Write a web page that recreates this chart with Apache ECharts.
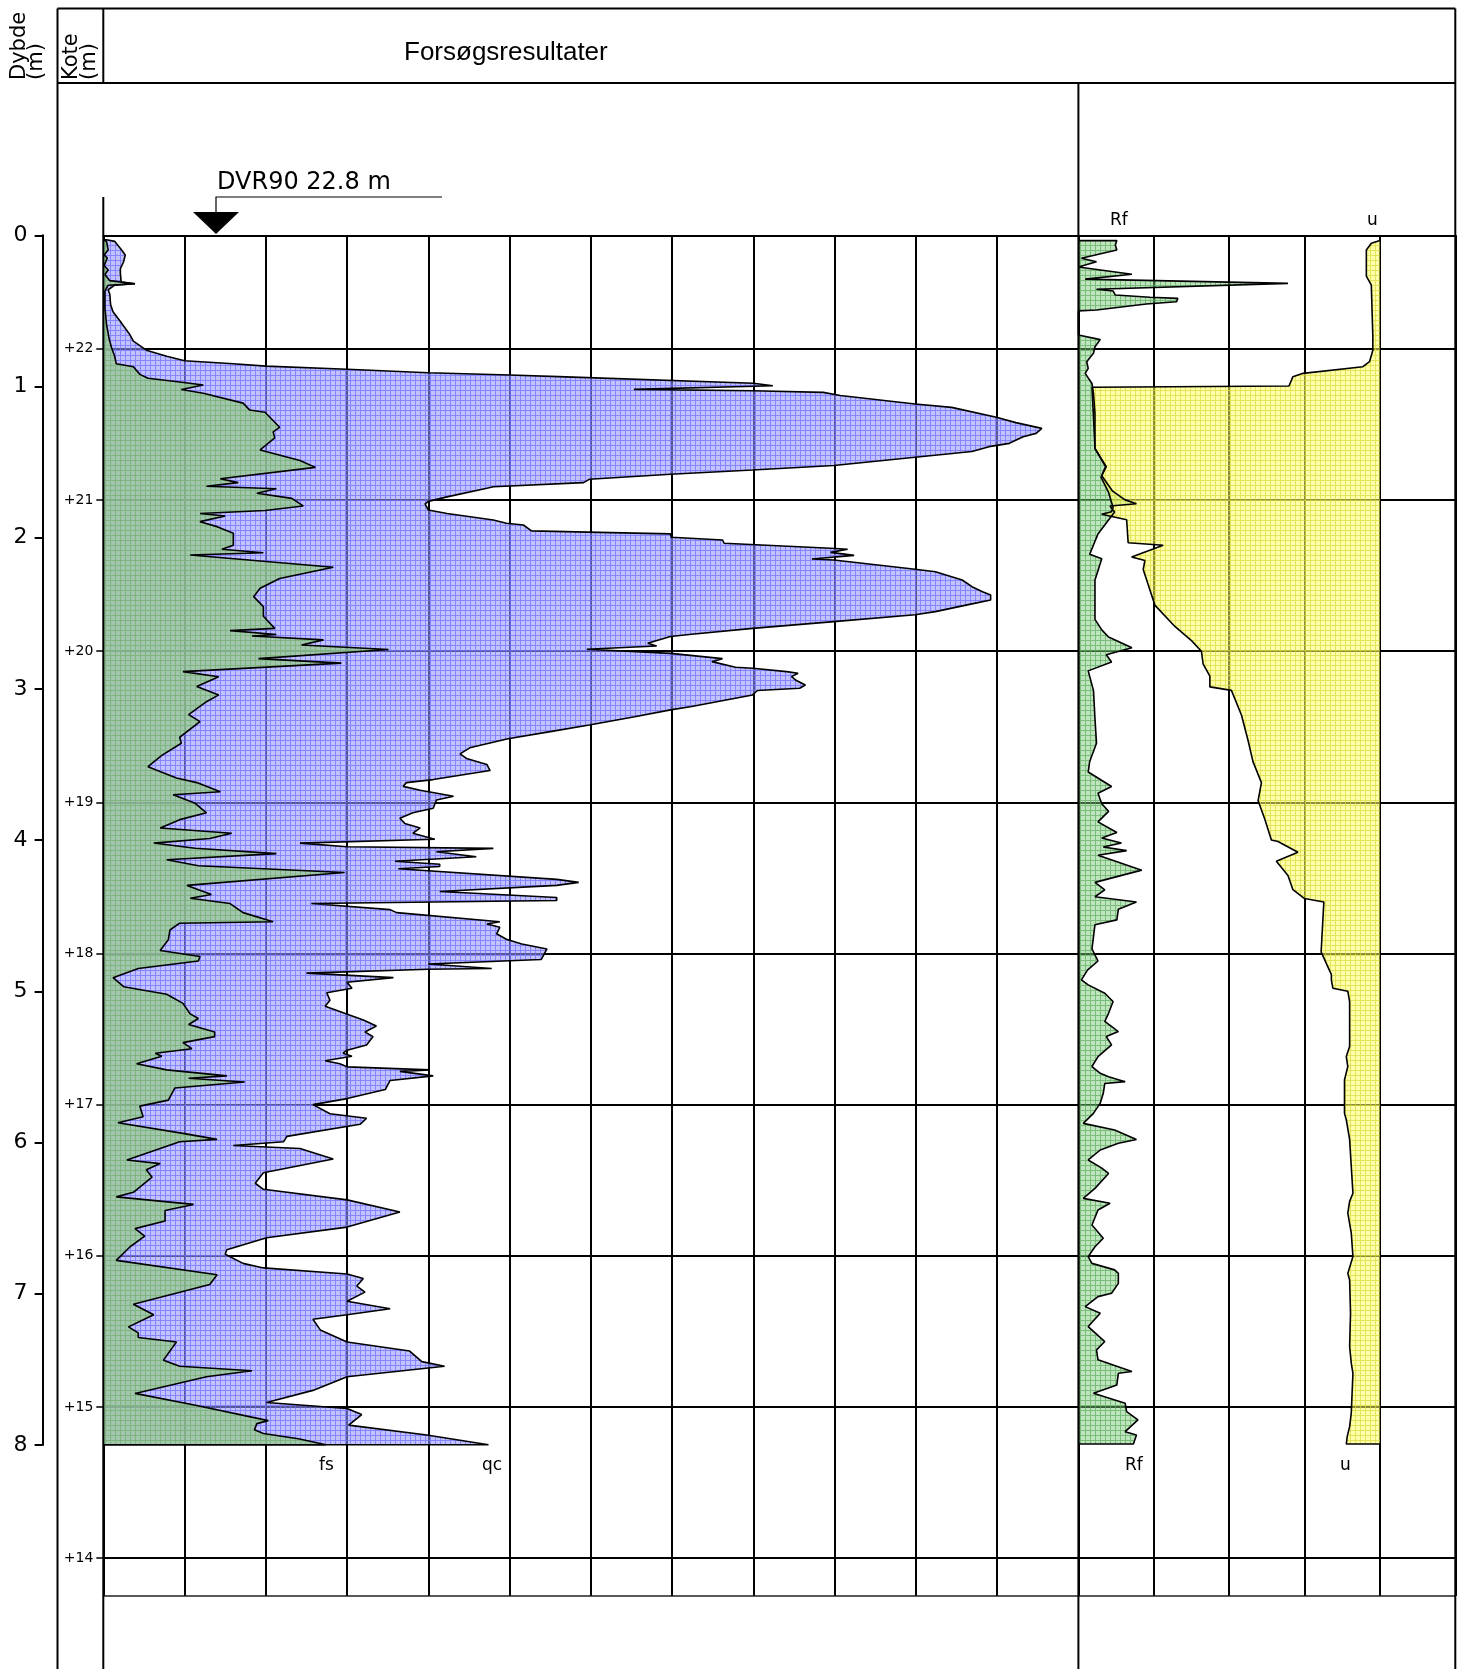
<!DOCTYPE html>
<html><head><meta charset="utf-8">
<script src="https://cdn.jsdelivr.net/npm/echarts@6/dist/echarts.min.js"></script>
<style>html,body{margin:0;padding:0;background:#fff}#c{width:1467px;height:1669px}</style>
</head><body><div id="c"></div>
<script>
// ---------- DATA ----------
const groundKote = 22.75;            // DVR90 22.8 m
const koteTicks = [22,21,20,19,18,17,16,15,14];
const depthTicks = [0,1,2,3,4,5,6,7,8];
// [depth m, qc MPa]
const qc = [[0.03,0.04],[0.04,0.14],[0.10,0.23],[0.13,0.27],[0.175,0.25],[0.22,0.21],[0.25,0.21],[0.31,0.22],[0.32,0.39],[0.33,0.14],[0.36,0.06],[0.39,0.08],[0.46,0.09],[0.505,0.12],[0.57,0.21],[0.66,0.33],[0.70,0.37],[0.76,0.53],[0.80,0.78],[0.83,1.0],[0.85,1.6],[0.865,2.0],[0.886,3.0],[0.909,4.0],[0.924,5.0],[0.935,5.6],[0.979,8.0],[0.995,8.24],[1.019,6.53],[1.028,8.0],[1.039,8.86],[1.06,9.07],[1.116,9.99],[1.138,10.44],[1.204,10.99],[1.239,11.23],[1.277,11.55],[1.31,11.48],[1.332,11.32],[1.376,11.15],[1.398,10.9],[1.43,10.69],[1.468,9.99],[1.523,8.99],[1.552,7.99],[1.58,6.98],[1.614,5.98],[1.636,5.91],[1.663,4.80],[1.673,4.72],[1.73,4.23],[1.76,4.0],[1.777,3.96],[1.817,4.0],[1.84,4.23],[1.883,4.80],[1.905,4.96],[1.916,5.17],[1.955,5.27],[1.965,6.1],[1.975,6.98],[1.997,6.99],[2.015,7.62],[2.037,7.64],[2.07,8.95],[2.077,9.16],[2.097,8.95],[2.117,9.24],[2.141,8.72],[2.148,8.99],[2.209,9.99],[2.225,10.24],[2.28,10.57],[2.324,10.69],[2.357,10.82],[2.379,10.92],[2.412,10.92],[2.438,10.69],[2.489,10.24],[2.51,9.99],[2.555,8.99],[2.6,7.99],[2.639,7.24],[2.654,6.98],[2.698,6.70],[2.716,6.81],[2.738,5.95],[2.765,6.98],[2.80,7.62],[2.82,7.49],[2.857,7.78],[2.864,7.99],[2.886,8.41],[2.897,8.55],[2.919,8.47],[2.945,8.53],[2.974,8.64],[2.996,8.57],[3.011,8.05],[3.04,7.99],[3.117,7.24],[3.139,6.98],[3.184,6.54],[3.239,5.98],[3.283,5.5],[3.33,4.98],[3.39,4.51],[3.43,4.39],[3.46,4.47],[3.50,4.72],[3.54,4.76],[3.60,4.06],[3.62,3.73],[3.645,3.69],[3.67,3.90],[3.71,4.31],[3.735,4.10],[3.79,4.06],[3.82,3.81],[3.856,3.65],[3.89,3.71],[3.92,3.90],[3.955,3.81],[3.995,4.08],[4.02,2.42],[4.044,3.0],[4.055,4.80],[4.077,4.10],[4.11,4.59],[4.14,3.59],[4.16,4.14],[4.175,4.14],[4.19,3.63],[4.26,5.58],[4.28,5.85],[4.30,5.58],[4.34,4.14],[4.38,5.58],[4.40,5.58],[4.42,2.56],[4.46,3.53],[4.48,3.61],[4.54,4.88],[4.555,4.72],[4.577,4.88],[4.62,4.84],[4.656,4.96],[4.687,5.15],[4.72,5.46],[4.79,5.39],[4.82,4.0],[4.85,4.78],[4.855,4.0],[4.88,2.50],[4.91,3.57],[4.94,3.0],[4.98,3.06],[5.01,2.75],[5.06,2.79],[5.10,2.73],[5.19,3.2],[5.23,3.36],[5.27,3.22],[5.30,3.32],[5.355,3.24],[5.39,3.0],[5.41,2.95],[5.43,3.06],[5.46,2.73],[5.48,2.91],[5.50,3.0],[5.52,4.02],[5.53,3.65],[5.56,4.06],[5.59,3.53],[5.65,3.47],[5.71,3.0],[5.75,2.58],[5.81,2.79],[5.84,3.24],[5.88,3.16],[5.96,2.26],[5.995,2.22],[6.02,1.60],[6.04,2.42],[6.11,2.83],[6.20,1.97],[6.27,1.87],[6.31,1.97],[6.38,3.0],[6.46,3.65],[6.56,3.0],[6.63,2.01],[6.71,1.52],[6.74,1.50],[6.80,1.72],[6.83,1.97],[6.87,3.0],[6.90,3.20],[6.95,3.12],[6.99,3.22],[7.05,3.0],[7.10,3.53],[7.14,3.0],[7.17,2.58],[7.24,2.67],[7.32,3.0],[7.38,3.77],[7.45,3.92],[7.48,4.20],[7.55,3.0],[7.64,2.58],[7.72,2.01],[7.76,3.0],[7.80,3.18],[7.87,3.02],[7.935,3.98],[8.0,4.74]];
// [depth m, fs kPa]
const fs = [[0.03,0.2],[0.042,0.4],[0.097,0.6],[0.13,0.1],[0.15,0.5],[0.20,0.1],[0.23,0.6],[0.26,0.2],[0.30,0.8],[0.32,3.9],[0.33,0.6],[0.37,0.2],[0.48,0.2],[0.59,0.4],[0.68,0.7],[0.74,1.0],[0.80,1.4],[0.85,1.6],[0.87,3.7],[0.92,4.5],[0.946,5.5],[0.97,9.4],[0.99,12.3],[1.02,9.6],[1.045,12.3],[1.11,17.2],[1.155,18.0],[1.17,19.9],[1.27,21.7],[1.30,20.9],[1.34,21.1],[1.42,19.3],[1.49,24.2],[1.535,26.1],[1.61,14.4],[1.636,16.6],[1.66,12.7],[1.676,21.3],[1.706,18.9],[1.74,23.2],[1.79,24.6],[1.82,19.9],[1.84,11.9],[1.857,15.0],[1.894,11.9],[1.927,14.0],[1.97,16.0],[2.05,16.0],[2.077,14.6],[2.10,19.7],[2.115,10.7],[2.196,28.3],[2.27,21.7],[2.335,19.3],[2.39,18.5],[2.456,19.7],[2.52,19.7],[2.60,21.1],[2.615,15.6],[2.64,21.3],[2.65,18.3],[2.676,27.1],[2.71,24.4],[2.74,35.1],[2.80,19.1],[2.83,29.3],[2.886,9.8],[2.92,14.2],[2.985,11.5],[3.04,14.2],[3.085,12.7],[3.17,10.5],[3.217,11.9],[3.32,9.4],[3.36,9.6],[3.44,7.2],[3.515,5.5],[3.59,9.0],[3.62,11.5],[3.68,14.4],[3.70,8.6],[3.757,11.3],[3.82,12.7],[3.865,9.4],[3.92,7.0],[3.955,15.8],[3.99,13.1],[4.02,6.2],[4.054,11.3],[4.09,21.3],[4.13,7.8],[4.17,11.7],[4.215,29.7],[4.30,10.3],[4.36,13.3],[4.385,10.7],[4.42,15.6],[4.48,17.2],[4.54,20.9],[4.55,9.4],[4.595,8.2],[4.66,8.0],[4.73,7.0],[4.77,11.9],[4.80,11.7],[4.85,4.3],[4.91,1.2],[4.97,2.5],[5.02,7.8],[5.08,9.8],[5.15,10.7],[5.18,11.7],[5.22,10.5],[5.27,13.7],[5.30,13.7],[5.34,9.8],[5.38,10.9],[5.41,6.4],[5.43,7.2],[5.48,4.1],[5.52,7.8],[5.56,15.2],[5.575,10.5],[5.60,17.4],[5.64,8.8],[5.72,8.0],[5.76,4.5],[5.83,4.9],[5.87,1.8],[5.94,9.8],[5.98,14.0],[5.995,9.4],[6.116,2.9],[6.14,7.0],[6.18,5.3],[6.23,6.0],[6.33,3.7],[6.36,1.6],[6.41,11.1],[6.45,7.6],[6.52,7.6],[6.57,3.9],[6.62,5.1],[6.69,3.3],[6.78,1.6],[6.875,14.0],[6.94,13.1],[7.07,3.7],[7.14,6.2],[7.22,3.1],[7.26,4.3],[7.29,4.3],[7.32,9.0],[7.44,7.4],[7.48,9.4],[7.51,18.3],[7.55,12.7],[7.66,3.9],[7.74,11.5],[7.84,20.3],[7.86,18.9],[7.90,18.6],[7.925,19.7],[7.96,24.0],[8.0,27.4]];
// [depth m, Rf %]
const rf = [[0.035,0.51],[0.064,0.49],[0.097,0.51],[0.152,0.04],[0.175,0.24],[0.21,0.0],[0.258,0.71],[0.29,0.09],[0.318,2.78],[0.357,0.24],[0.368,0.46],[0.395,0.49],[0.41,0.95],[0.417,1.32],[0.44,1.30],[0.454,0.90],[0.494,0.24],[0.50,0.0],[0.66,0.0],[0.69,0.29],[0.737,0.22],[0.78,0.20],[0.836,0.11],[0.88,0.13],[0.913,0.09],[0.98,0.18],[1.045,0.20],[1.18,0.22],[1.41,0.22],[1.53,0.37],[1.59,0.31],[1.69,0.45],[1.75,0.62],[1.776,0.77],[1.79,0.42],[1.83,0.48],[1.975,0.26],[2.11,0.15],[2.14,0.31],[2.28,0.22],[2.54,0.22],[2.61,0.31],[2.657,0.40],[2.728,0.71],[2.775,0.37],[2.822,0.44],[2.881,0.13],[3.01,0.20],[3.198,0.22],[3.36,0.24],[3.48,0.15],[3.55,0.13],[3.646,0.44],[3.69,0.26],[3.76,0.31],[3.81,0.40],[3.88,0.26],[3.95,0.51],[3.987,0.31],[4.02,0.57],[4.046,0.33],[4.07,0.64],[4.10,0.26],[4.199,0.84],[4.28,0.22],[4.33,0.35],[4.375,0.22],[4.41,0.77],[4.457,0.53],[4.528,0.51],[4.56,0.22],[4.72,0.18],[4.80,0.26],[4.86,0.12],[4.925,0.04],[4.958,0.13],[5.013,0.35],[5.068,0.46],[5.146,0.40],[5.20,0.35],[5.267,0.53],[5.30,0.37],[5.355,0.44],[5.432,0.26],[5.498,0.18],[5.543,0.29],[5.565,0.40],[5.598,0.62],[5.61,0.35],[5.675,0.33],[5.74,0.29],[5.808,0.20],[5.874,0.065],[5.918,0.48],[5.98,0.77],[6.006,0.53],[6.05,0.29],[6.116,0.13],[6.17,0.31],[6.205,0.40],[6.304,0.22],[6.37,0.065],[6.402,0.42],[6.447,0.26],[6.546,0.18],[6.634,0.33],[6.69,0.22],[6.755,0.13],[6.80,0.18],[6.843,0.48],[6.866,0.53],[6.932,0.53],[6.998,0.44],[7.02,0.26],[7.086,0.09],[7.13,0.29],[7.218,0.13],[7.317,0.35],[7.372,0.24],[7.438,0.26],[7.515,0.71],[7.527,0.53],[7.604,0.51],[7.659,0.20],[7.725,0.62],[7.78,0.64],[7.835,0.79],[7.913,0.62],[7.935,0.77],[7.995,0.73]];
// [depth m, u kPa]
const u = [[0.035,0],[0.053,-5.7],[0.097,-9],[0.27,-9],[0.33,-5.7],[0.67,-4.7],[0.76,-4.7],[0.836,-6.9],[0.869,-11.3],[0.913,-51],[0.935,-57.7],[0.997,-60.3],[1.005,-191],[1.2,-190],[1.41,-189],[1.53,-182],[1.6,-185],[1.7,-180],[1.8,-177],[1.829,-178],[1.845,-184.6],[1.881,-168],[2.034,-167],[2.05,-143.8],[2.128,-164.7],[2.151,-155.9],[2.21,-157],[2.446,-149.3],[2.587,-136],[2.681,-125],[2.751,-118.4],[2.834,-117.3],[2.916,-112.8],[2.987,-112.8],[3.01,-98.5],[3.175,-91.8],[3.34,-87.5],[3.481,-84.2],[3.62,-78.6],[3.74,-80.8],[3.857,-76.5],[3.999,-72],[4.01,-67.6],[4.081,-54.4],[4.14,-68.7],[4.234,-61],[4.328,-57.7],[4.387,-50],[4.41,-37.2],[4.74,-39],[4.89,-32.2],[4.925,-32.2],[4.98,-31.2],[5.0,-21.3],[5.068,-20.1],[5.365,-20.1],[5.432,-22.3],[5.498,-21.3],[5.586,-23.5],[5.63,-23.5],[5.808,-23.5],[5.85,-22.3],[5.98,-20.1],[6.16,-19],[6.336,-17.9],[6.39,-20.1],[6.468,-21.3],[6.60,-19],[6.755,-17.9],[6.866,-21.3],[6.91,-20.1],[7.13,-19.5],[7.35,-20.1],[7.46,-19],[7.527,-17.9],[7.79,-19],[7.88,-20.1],[7.946,-21.7],[7.995,-22.3]];

// ---------- RENDER ----------
function makePattern(bg, line, size) {
  const c = document.createElement('canvas'); c.width = size; c.height = size;
  const g = c.getContext('2d');
  g.fillStyle = bg; g.fillRect(0, 0, size, size);
  g.fillStyle = line; g.fillRect(0, 0, size, 1); g.fillRect(0, 1, 1, size - 1);
  return { image: c, repeat: 'repeat' };
}
const patQc = makePattern('rgba(150,150,255,0.58)', 'rgba(110,110,255,0.72)', 5);
const patFs = makePattern('rgba(152,200,146,0.74)', 'rgba(122,180,116,0.8)', 5);
const patRf = makePattern('rgba(120,200,120,0.48)', 'rgba(90,170,90,0.68)', 5);
const patU  = makePattern('rgba(255,255,100,0.55)', 'rgba(215,215,60,0.7)', 5);

function areaSeries(data, xi, yi, base, fill, z) {
  return {
    type: 'custom', xAxisIndex: xi, yAxisIndex: yi, z: z, silent: true, animation: false,
    data: [[base, data[0][0]]],
    renderItem: function (params, api) {
      const pts = data.map(p => api.coord([p[1], p[0]]));
      pts.unshift(api.coord([base, data[0][0]]));
      pts.push(api.coord([base, data[data.length - 1][0]]));
      return { type: 'polygon', shape: { points: pts }, style: { fill: fill, stroke: null } };
    }
  };
}
function outlineSeries(data, xi, yi, base) {
  const pts = [[base, data[0][0]]].concat(data.map(p => [p[1], p[0]]), [[base, data[data.length - 1][0]]]);
  return {
    type: 'line', xAxisIndex: xi, yAxisIndex: yi, z: 10, silent: true, animation: false,
    data: pts, symbol: 'none', showSymbol: false, clip: false,
    lineStyle: { color: '#000', width: 1.6 }
  };
}

const BK = '#000';
const FONT = 'DejaVu Sans';
const X0 = 103.3, XM = 1078.4, XR = 1455.3, Y0 = 235.3, Y9 = 1596, PERM = 151.2;

const kAxisBase = {
  type: 'value', min: groundKote - 9, max: groundKote, position: 'left',
  axisLine: { show: false }
};

const option = {
  animation: false,
  backgroundColor: '#fff',
  grid: [
    { left: X0, top: Y0, width: XM - X0, height: Y9 - Y0, containLabel: false, outerBoundsMode: 'none' },
    { left: XM, top: Y0, width: XR - XM, height: Y9 - Y0, containLabel: false, outerBoundsMode: 'none' },
    { left: 42.6, top: Y0, width: 10, height: 8 * PERM, containLabel: false, outerBoundsMode: 'none' }
  ],
  xAxis: [
    { gridIndex: 0, type: 'value', min: 0, max: 12, interval: 1, position: 'top',
      axisLine: { show: true, onZero: false, lineStyle: { color: BK, width: 2 } },
      axisTick: { show: false }, axisLabel: { show: false },
      splitLine: { show: true, lineStyle: { color: BK, width: 2 } } },
    { gridIndex: 0, type: 'value', min: 0, max: 120, position: 'bottom',
      axisLine: { show: true, onZero: false, lineStyle: { color: '#222', width: 1.5 } },
      axisTick: { show: false }, axisLabel: { show: false }, splitLine: { show: false } },
    { gridIndex: 1, type: 'value', min: 0, max: 5, interval: 1, position: 'top',
      axisLine: { show: true, onZero: false, lineStyle: { color: BK, width: 2 } },
      axisTick: { show: false }, axisLabel: { show: false },
      splitLine: { show: true, lineStyle: { color: BK, width: 2 } } },
    { gridIndex: 1, type: 'value', min: -200, max: 50, position: 'bottom',
      axisLine: { show: true, onZero: false, lineStyle: { color: '#222', width: 1.5 } },
      axisTick: { show: false }, axisLabel: { show: false }, splitLine: { show: false } },
    { gridIndex: 2, type: 'value', min: 0, max: 1, show: false }
  ],
  yAxis: [
    { gridIndex: 0, type: 'value', min: 0, max: 9, inverse: true, show: false },
    Object.assign({}, kAxisBase, { gridIndex: 0,
      axisTick: { show: true, length: 7, customValues: koteTicks, lineStyle: { color: BK, width: 1.5 } },
      axisLabel: { show: true, customValues: koteTicks, formatter: v => '+' + v, fontSize: 14, color: BK, fontFamily: FONT, margin: 10 },
      splitLine: { show: true, lineStyle: { color: BK, width: 2 } } }),
    { gridIndex: 1, type: 'value', min: 0, max: 9, inverse: true, show: false },
    Object.assign({}, kAxisBase, { gridIndex: 1,
      axisTick: { show: false, customValues: koteTicks },
      axisLabel: { show: false, customValues: koteTicks },
      splitLine: { show: true, lineStyle: { color: BK, width: 2 } } }),
    { gridIndex: 2, type: 'value', min: 0, max: 8, inverse: true, interval: 1, position: 'left',
      axisLine: { show: true, onZero: false, lineStyle: { color: BK, width: 2 } },
      axisTick: { show: true, length: 8, lineStyle: { color: BK, width: 2 } },
      axisLabel: { show: true, fontSize: 22, color: BK, fontFamily: FONT, margin: 15,
        formatter: v => depthTicks.indexOf(v) >= 0 ? String(v) : '' },
      splitLine: { show: false } }
  ],
  series: [
    areaSeries(qc, 0, 0, 0, patQc, 2),
    areaSeries(fs, 1, 0, 0, patFs, 3),
    areaSeries(rf, 2, 2, 0, patRf, 2),
    areaSeries(u, 3, 2, 0, patU, 3),
    outlineSeries(qc, 0, 0, 0),
    outlineSeries(fs, 1, 0, 0),
    outlineSeries(rf, 2, 2, 0),
    outlineSeries(u, 3, 2, 0)
  ],
  graphic: [
    // frame
    { type: 'line', shape: { x1: 57.5, y1: 8.5, x2: XR, y2: 8.5 }, style: { stroke: BK, lineWidth: 2 }, z: 20 },
    { type: 'line', shape: { x1: 57.5, y1: 8.5, x2: 57.5, y2: 1669 }, style: { stroke: BK, lineWidth: 2 }, z: 20 },
    { type: 'line', shape: { x1: X0, y1: 8.5, x2: X0, y2: 83 }, style: { stroke: BK, lineWidth: 2 }, z: 20 },
    { type: 'line', shape: { x1: X0, y1: 197, x2: X0, y2: 1669 }, style: { stroke: BK, lineWidth: 2 }, z: 20 },
    { type: 'line', shape: { x1: 57.5, y1: 83, x2: XR, y2: 83 }, style: { stroke: BK, lineWidth: 2 }, z: 20 },
    { type: 'line', shape: { x1: XM, y1: 83, x2: XM, y2: 1669 }, style: { stroke: BK, lineWidth: 2 }, z: 20 },
    { type: 'line', shape: { x1: XR, y1: 8.5, x2: XR, y2: 1669 }, style: { stroke: BK, lineWidth: 2 }, z: 20 },
    // header texts
    { type: 'text', x: 404, y: 53, style: { text: 'Forsøgsresultater', font: '26px "Liberation Sans", Arial, sans-serif', fill: BK, textAlign: 'left', textVerticalAlign: 'middle' }, z: 20 },
    { type: 'text', x: 20, y: 80, rotation: Math.PI / 2, style: { text: 'Dybde', font: '21px "DejaVu Sans"', fill: BK, textAlign: 'left', textVerticalAlign: 'middle' }, z: 20 },
    { type: 'text', x: 37, y: 80, rotation: Math.PI / 2, style: { text: '(m)', font: '21px "DejaVu Sans"', fill: BK, textAlign: 'left', textVerticalAlign: 'middle' }, z: 20 },
    { type: 'text', x: 72, y: 80, rotation: Math.PI / 2, style: { text: 'Kote', font: '21px "DejaVu Sans"', fill: BK, textAlign: 'left', textVerticalAlign: 'middle' }, z: 20 },
    { type: 'text', x: 90, y: 80, rotation: Math.PI / 2, style: { text: '(m)', font: '21px "DejaVu Sans"', fill: BK, textAlign: 'left', textVerticalAlign: 'middle' }, z: 20 },
    // DVR90 marker
    { type: 'text', x: 217, y: 195, style: { text: 'DVR90 22.8 m', font: '24px "DejaVu Sans"', fill: BK, textAlign: 'left', textVerticalAlign: 'bottom' }, z: 20 },
    { type: 'polyline', shape: { points: [[216, 212], [216, 197], [442, 197]] }, style: { stroke: BK, lineWidth: 1.2, fill: null }, z: 20 },
    { type: 'polygon', shape: { points: [[193, 212], [239, 212], [216, 234]] }, style: { fill: BK }, z: 20 },
    // series labels
    { type: 'text', x: 1110, y: 221, style: { text: 'Rf', font: '17px "DejaVu Sans"', fill: BK, textAlign: 'left', textVerticalAlign: 'middle' }, z: 20 },
    { type: 'text', x: 1367, y: 221, style: { text: 'u', font: '17px "DejaVu Sans"', fill: BK, textAlign: 'left', textVerticalAlign: 'middle' }, z: 20 },
    { type: 'text', x: 319, y: 1466, style: { text: 'fs', font: '17px "DejaVu Sans"', fill: BK, textAlign: 'left', textVerticalAlign: 'middle' }, z: 20 },
    { type: 'text', x: 482, y: 1466, style: { text: 'qc', font: '17px "DejaVu Sans"', fill: BK, textAlign: 'left', textVerticalAlign: 'middle' }, z: 20 },
    { type: 'text', x: 1125, y: 1466, style: { text: 'Rf', font: '17px "DejaVu Sans"', fill: BK, textAlign: 'left', textVerticalAlign: 'middle' }, z: 20 },
    { type: 'text', x: 1340, y: 1466, style: { text: 'u', font: '17px "DejaVu Sans"', fill: BK, textAlign: 'left', textVerticalAlign: 'middle' }, z: 20 }
  ]
};

const chart = echarts.init(document.getElementById('c'), null, { renderer: 'canvas', width: 1467, height: 1669 });
chart.setOption(option);
</script>
</body></html>
